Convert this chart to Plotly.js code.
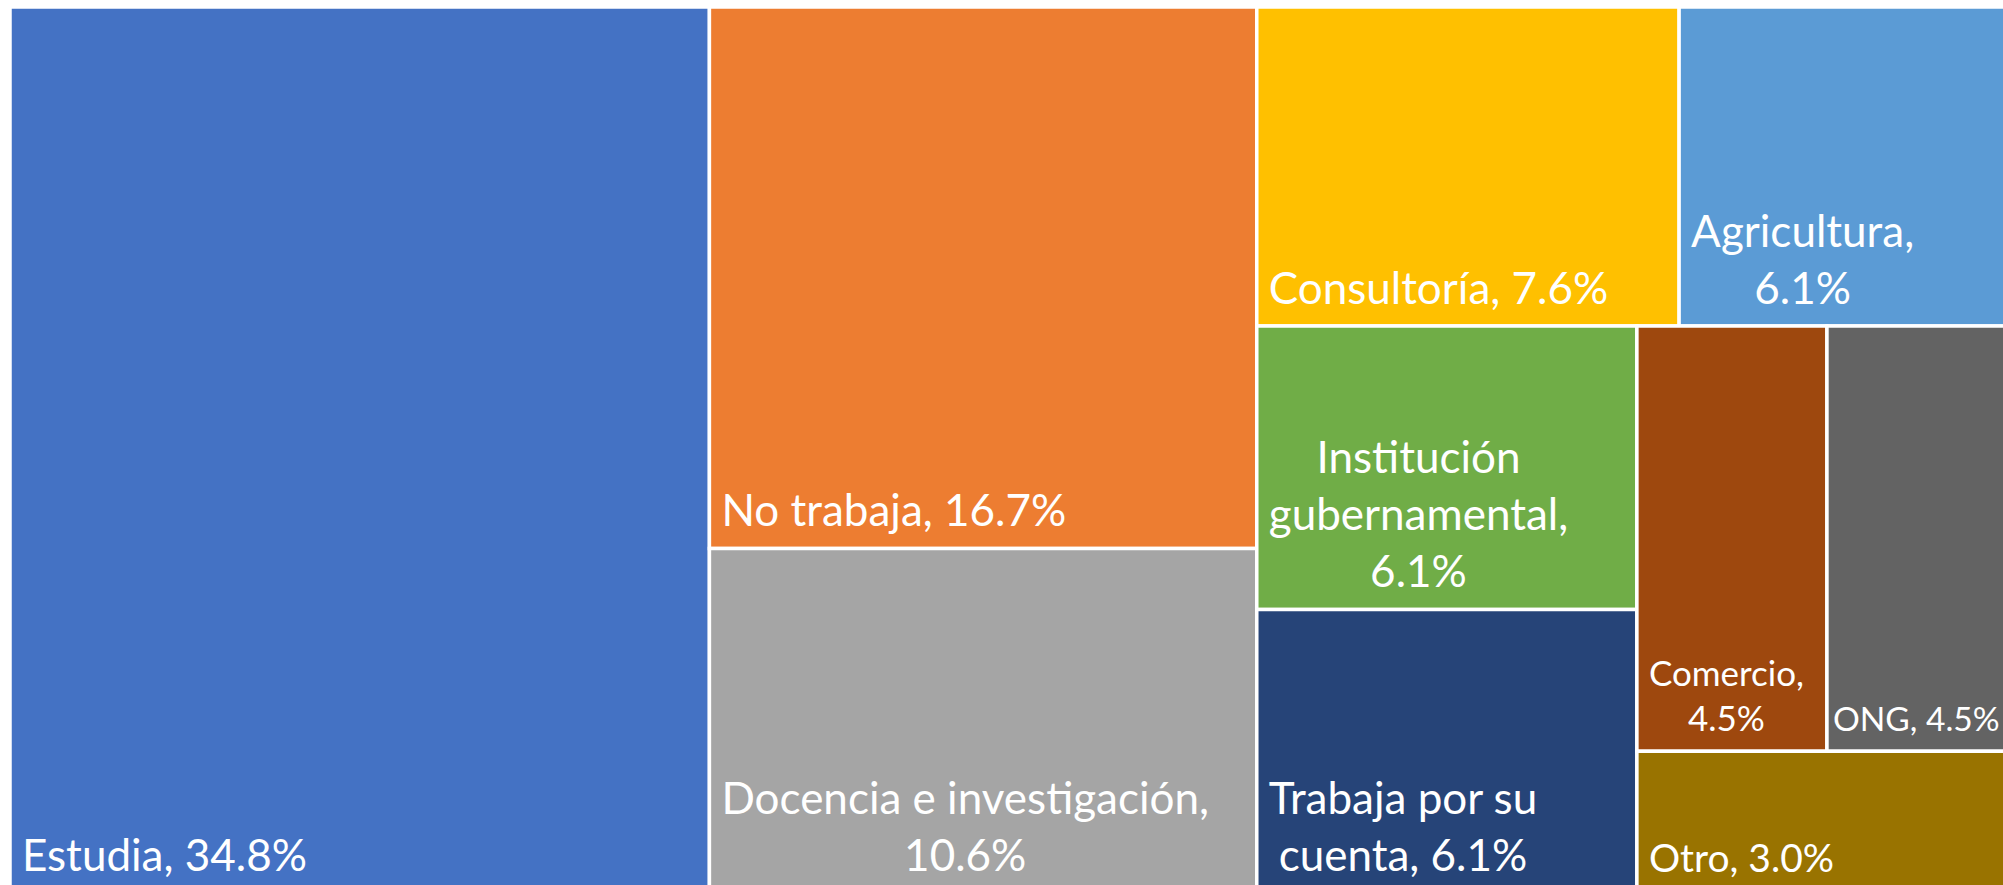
<!DOCTYPE html>
<html>
<head>
<meta charset="utf-8">
<script src="https://cdn.plot.ly/plotly-3.0.1.min.js"></script>
<style>
  html, body { margin: 0; padding: 0; overflow: hidden; background: #ffffff; }
  #chart { width: 2017px; height: 893px; }
</style>
</head>
<body>
<div id="chart"></div>
<script>
// Categories (count of respondents per occupation)
const categories = [
  "Estudia", "No trabaja", "Docencia e investigación", "Consultoría",
  "Agricultura", "Institución gubernamental", "Trabaja por su cuenta",
  "Comercio", "ONG", "Otro"
];
const counts = [23, 11, 7, 5, 4, 4, 4, 3, 3, 2];

// How each label is broken into lines in the tile
const labelLines = [
  "Estudia, ", "No trabaja, ", "Docencia e investigación,<br>", "Consultoría, ",
  "Agricultura,<br>", "Institución<br>gubernamental,<br>", "Trabaja por su<br>cuenta, ",
  "Comercio,<br>", "ONG, ", "Otro, "
];

// Styles
const colors = [
  "#4472C4", "#ED7D31", "#A5A5A5", "#FFC000", "#5B9BD5",
  "#70AD47", "#264478", "#9E480E", "#636363", "#997300"
];
const fontSizes = [44, 44, 44, 44, 44, 44, 44, 35, 33.5, 39];
const labelInset = [9, 9, 9, 9, 9, 9, 9, 9, 3, 9];
const labelLift = 10;

const total = counts.reduce((a, b) => a + b, 0);
const texts = counts.map((c, i) => labelLines[i] + (c / total * 100).toFixed(1) + "%");

const trace = {
  type: "treemap",
  labels: categories,
  parents: categories.map(() => ""),
  values: counts,
  text: texts,
  texttemplate: "%{text}",
  textposition: "bottom left",
  textfont: { family: "Lato", color: "#ffffff", size: fontSizes },
  sort: true,
  branchvalues: "remainder",
  marker: {
    colors: colors,
    line: { color: "#ffffff", width: 3.5 },
    pad: { t: 0, l: 0, r: 0, b: 0 }
  },
  leaf: { opacity: 1 },
  tiling: { packing: "squarify", squarifyratio: 1.17, pad: 0 },
  pathbar: { visible: false },
  hoverinfo: "none"
};

const layout = {
  width: 2017,
  height: 893,
  margin: { l: 10, t: 7, r: 0, b: 0, pad: 0 },
  paper_bgcolor: "#ffffff",
  showlegend: false
};

Plotly.newPlot("chart", [trace], layout, { staticPlot: true, displayModeBar: false, responsive: false })
  .then(function () {
    // Excel-style labels: inset from the tile edge, lines centred on the widest line
    document.querySelectorAll("g.slice text.slicetext").forEach(function (t) {
      let idx = -1;
      const d = t.parentNode && t.parentNode.__data__;
      if (d && d.data && d.data.data && typeof d.data.data.i === "number") idx = d.data.data.i;
      if (idx < 0) {
        const content = t.textContent || "";
        idx = categories.findIndex(function (c, i) {
          return content.indexOf(labelLines[i].replace(/<br>/g, "").trim()) === 0;
        });
      }
      const lines = t.querySelectorAll("tspan.line");
      if (lines.length > 1) {
        const widths = Array.from(lines).map(l => l.getComputedTextLength());
        const maxW = Math.max.apply(null, widths);
        lines.forEach(function (l, i) {
          const x0 = parseFloat(l.getAttribute("x") || "0");
          l.setAttribute("x", x0 + (maxW - widths[i]) / 2);
        });
      }
      const dx = idx >= 0 ? labelInset[idx] : 9;
      const tr = t.getAttribute("transform") || "";
      t.setAttribute("transform", "translate(" + dx + "," + (-labelLift) + ") " + tr);
    });
  });
</script>
</body>
</html>
